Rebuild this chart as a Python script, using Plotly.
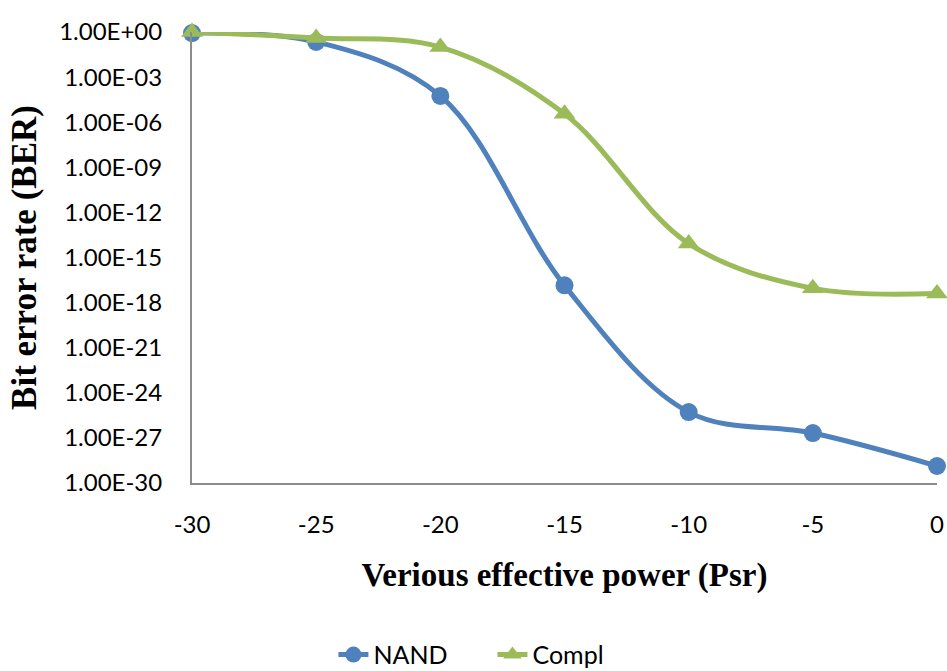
import plotly.graph_objects as go

x_vals = [-30, -25, -20, -15, -10, -5, 0]
nand = [0.85, 0.22, 5.6e-5, 1.4e-17, 5.2e-26, 2.1e-27, 1.35e-29]
compl = [1.0, 0.4, 0.1, 3.6e-6, 8.5e-15, 8.9e-18, 4.1e-18]
y_tickvals = [1e0, 1e-3, 1e-6, 1e-9, 1e-12, 1e-15, 1e-18, 1e-21, 1e-24, 1e-27, 1e-30]
y_ticktext = ["1.00E+00", "1.00E-03", "1.00E-06", "1.00E-09", "1.00E-12", "1.00E-15",
              "1.00E-18", "1.00E-21", "1.00E-24", "1.00E-27", "1.00E-30"]
x_tickvals = [-30, -25, -20, -15, -10, -5, 0]
x_ticktext = ["-30", "-25", "-20", "-15", "-10", "-5", "0"]

fig = go.Figure()
fig.add_trace(go.Scatter(x=x_vals, y=nand, name="NAND", mode="lines+markers",
                         line=dict(color="#4F81BD", width=5, shape="spline", smoothing=1.0),
                         marker=dict(symbol="circle", size=18, color="#4F81BD"),
                         cliponaxis=False))
fig.add_trace(go.Scatter(x=x_vals, y=compl, name="Compl", mode="lines+markers",
                         line=dict(color="#9BBB59", width=5, shape="spline", smoothing=1.0),
                         marker=dict(symbol="triangle-up", size=19, color="#9BBB59"),
                         cliponaxis=False))

fig.update_layout(
    width=947, height=671,
    margin=dict(l=192, r=10, t=32, b=188, autoexpand=False),
    paper_bgcolor="white", plot_bgcolor="white",
    font=dict(family="Lato, Open Sans, sans-serif", size=24, color="black"),
    showlegend=True,
    legend=dict(orientation="h", x=0.52, xanchor="center", xref="container",
                y=-0.381, yanchor="middle", font=dict(size=25),
                entrywidth=114, tracegroupgap=0),
)
fig.update_xaxes(range=[-30, 0], tickvals=x_tickvals, ticktext=x_ticktext, ticks="",
                 showgrid=False, zeroline=False, showline=True, linecolor="#8c8c8c",
                 linewidth=2, ticklabelstandoff=19,
                 title=dict(text="<b>Verious effective power (Psr)</b>",
                            font=dict(family="Liberation Serif, Times New Roman, serif", size=33),
                            standoff=26))
fig.update_yaxes(type="log", range=[-30, 0], tickvals=y_tickvals, ticktext=y_ticktext,
                 ticks="", showgrid=False, zeroline=False, showline=True,
                 linecolor="#8c8c8c", linewidth=2, ticklabelstandoff=23,
                 title=dict(text="<b>Bit error rate (BER)</b>",
                            font=dict(family="Liberation Serif, Times New Roman, serif", size=35),
                            standoff=12))

fig.write_html("out.html", config={"displayModeBar": False},
               post_script="document.body.style.margin='0';document.body.style.overflow='hidden';")
